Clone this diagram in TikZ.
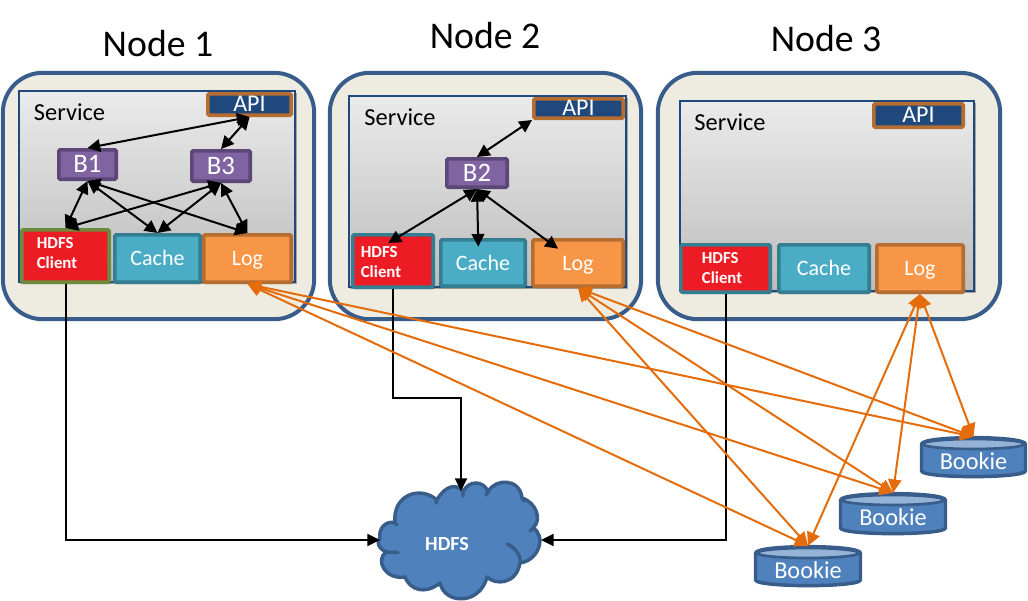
\documentclass[tikz,border=0pt]{standalone}
\usepackage{fontspec}
\setmainfont{Carlito}
\usetikzlibrary{arrows.meta,shadows}
\definecolor{outerfill}{HTML}{EEECE1}
\definecolor{outerline}{HTML}{385D8A}
\definecolor{navy}{HTML}{1F497D}
\definecolor{brownline}{HTML}{B66D31}
\definecolor{purplefill}{HTML}{8064A2}
\definecolor{purpleline}{HTML}{5C4776}
\definecolor{tealfill}{HTML}{4BACC6}
\definecolor{tealline}{HTML}{357D91}
\definecolor{orangefill}{HTML}{F79646}
\definecolor{redfill}{HTML}{ED1C24}
\definecolor{greenline}{HTML}{6E8B3D}
\definecolor{bluefill}{HTML}{4F81BD}
\definecolor{lightblue}{HTML}{95B3D7}
\definecolor{orangeline}{HTML}{E46C0A}
\tikzset{
  softshadow/.style={drop shadow={opacity=.3,shadow xshift=1.2pt,shadow yshift=-1.5pt,fill=black}},
  boxbase/.style={draw,line width=2.7pt,rounded corners=1pt,inner sep=0pt,text=white,text depth=0pt},
  outerbox/.style={draw=outerline,fill=outerfill,line width=3pt,rounded corners=30pt,inner sep=0pt},
  servicebox/.style={draw=navy,line width=1.5pt,top color=white!92!black,bottom color=white!74!black,inner sep=0pt,softshadow},
  apibox/.style={boxbase,draw=brownline,fill=navy,font=\fontsize{18}{18}\selectfont,text height=11pt},
  brokerbox/.style={boxbase,draw=purpleline,fill=purplefill,font=\fontsize{20}{20}\selectfont,text height=12.6pt},
  cachebox/.style={boxbase,draw=tealline,fill=tealfill,font=\fontsize{16.5}{18}\selectfont,text height=11.2pt,softshadow},
  logbox/.style={boxbase,draw=brownline,fill=orangefill,font=\fontsize{16.5}{18}\selectfont,text height=11.2pt,softshadow},
  hdfsboxa/.style={boxbase,draw=greenline,fill=redfill,softshadow},
  hdfsboxb/.style={boxbase,draw=tealline,fill=redfill,softshadow},
  clientlabel/.style={text=white,align=left,inner sep=0pt,font=\bfseries\fontsize{12.6}{15}\selectfont},
  titlelabel/.style={inner sep=0pt,font=\fontsize{28.3}{30}\selectfont},
  servicelabel/.style={inner sep=0pt,font=\fontsize{18.3}{20}\selectfont},
  bookiebody/.style={draw=outerline,fill=bluefill,line width=2.6pt},
  bookietop/.style={draw=outerline,fill=lightblue,line width=2pt},
  bookielabel/.style={inner sep=0pt,text=white,font=\fontsize{18.2}{20}\selectfont,text height=11.4pt,text depth=0pt},
  cloudbody/.style={draw=outerline,fill=bluefill,line width=2.6pt,line join=round},
  cloudlabel/.style={inner sep=0pt,text=white,font=\bfseries\fontsize{15}{18}\selectfont},
  blackarrow/.style={{Triangle[length=9.5pt,width=9.5pt]}-{Triangle[length=9.5pt,width=9.5pt]},line width=1.5pt,black},
  flowarrow/.style={-{Triangle[length=9.5pt,width=9pt]},line width=1.5pt,black},
  orangearrow/.style={{Triangle[length=10pt,width=10pt]}-{Triangle[length=10pt,width=10pt]},line width=1.5pt,orangeline},
}
% name, x1, y1, x2, y2, style, text (outer bounds in reference pixels)
\newcommand{\pxbox}[7]{%
  \pgfmathsetmacro\pxcx{(#2+#4)/2}%
  \pgfmathsetmacro\pxcy{(#3+#5)/2}%
  \pgfmathsetmacro\pxw{(#4-#2-3.6)*0.75}%
  \pgfmathsetmacro\pxh{(#5-#3-3.6)*0.75}%
  \node[#6,minimum width=\pxw pt,minimum height=\pxh pt] (#1) at (\pxcx,\pxcy) {#7};%
}
\newcommand{\bookiedisc}[5]{% name, x1, y1, x2, y2
  \pgfmathsetmacro\pxcx{(#2+#4)/2}%
  \pgfmathsetmacro\pxcy{(#3+#5)/2}%
  \pgfmathsetmacro\pxw{(#4-#2)*0.75}%
  \pgfmathsetmacro\pxh{(#5-#3)*0.75}%
  \draw[bookiebody] (#2+1.5,#3+7) -- (#2+1.5,#5-7) .. controls (#2+3,#5+0.5) and (#4-3,#5+0.5) .. (#4-1.5,#5-7) -- (#4-1.5,#3+7) .. controls (#4-3,#3-1.5) and (#2+3,#3-1.5) .. cycle;
  \draw[bookietop] (\pxcx,#3+7) ellipse [x radius=51,y radius=5];
  \node[bookielabel,minimum width=\pxw pt,minimum height=\pxh pt] (#1) at (\pxcx,\pxcy) {\raisebox{-3.2pt}{Bookie}};%
}
\begin{document}
\begin{tikzpicture}[x=0.75pt,y=-0.75pt]
\useasboundingbox (0,0) rectangle (1028,600);

\node[titlelabel] (title1) at (158,44) {Node 1};
\node[titlelabel] (title2) at (485,36) {Node 2};
\node[titlelabel] (title3) at (826,39) {Node 3};

% Node 1
\pxbox{outer1}{1}{71}{316}{321}{outerbox}{}
\pxbox{svc1}{17}{89}{297}{284}{servicebox}{}
\node[servicelabel] (svct1) at (69.5,112) {Service};
\pxbox{api1}{206}{92}{293}{117}{apibox}{API}
\pxbox{b1}{57}{148}{118}{181}{brokerbox}{B1}
\pxbox{b3}{190}{149}{252}{183}{brokerbox}{B3}
\pxbox{hdfs1}{20}{228}{111}{284}{hdfsboxa}{}
\node[clientlabel] (hdfst1) at (57,253) {HDFS\\Client};
\pxbox{cache1}{113}{233}{202}{284}{cachebox}{Cache}
\pxbox{log1}{202}{233}{293}{284}{logbox}{Log}

% Node 2
\pxbox{outer2}{328}{71}{643}{321}{outerbox}{}
\pxbox{svc2}{347}{94}{628}{289}{servicebox}{}
\node[servicelabel] (svct2) at (400,117) {Service};
\pxbox{api2}{532}{97}{625}{120}{apibox}{API}
\pxbox{b2}{445}{157}{509}{189}{brokerbox}{B2}
\pxbox{hdfs2}{351}{233}{435}{289}{hdfsboxb}{}
\node[clientlabel] (hdfst2) at (381,262) {HDFS\\Client};
\pxbox{cache2}{439}{238}{527}{288}{cachebox}{Cache}
\pxbox{log2}{531}{238}{625}{288}{logbox}{Log}

% Node 3
\pxbox{outer3}{656}{71}{1002}{321}{outerbox}{}
\pxbox{svc3}{678}{99}{976}{293}{servicebox}{}
\node[servicelabel] (svct3) at (730,122) {Service};
\pxbox{api3}{872}{102}{965}{129}{apibox}{API}
\pxbox{hdfs3}{679}{243}{772}{294}{hdfsboxb}{}
\node[clientlabel] (hdfst3) at (722,268) {HDFS\\Client};
\pxbox{cache3}{777}{243}{871}{294}{cachebox}{Cache}
\pxbox{log3}{875}{243}{965}{294}{logbox}{Log}

% Bookies
\bookiedisc{bka}{920}{437}{1027}{478}
\bookiedisc{bkb}{839}{493}{947}{535}
\bookiedisc{bkc}{754}{546}{862}{587}

% HDFS cloud
\draw[cloudbody] (380,538)
  .. controls (378,527) and (388,520) .. (395,523)
  .. controls (392,495) and (420,485) .. (437,500)
  .. controls (445,485) and (458,483) .. (463,492)
  .. controls (468,480) and (484,480) .. (488,492)
  .. controls (495,478) and (520,478) .. (522,498)
  .. controls (537,503) and (542,520) .. (533,528)
  .. controls (546,535) and (540,560) .. (520,563)
  .. controls (516,585) and (495,585) .. (487,577)
  .. controls (480,605) and (445,605) .. (440,583)
  .. controls (425,595) and (410,590) .. (405,577)
  .. controls (385,580) and (375,560) .. (386,552)
  .. controls (377,547) and (377,542) .. (380,538) -- cycle;
\draw[draw=outerline,line width=2.6pt,line cap=round]
  (507,544) .. controls (516,548) and (521,556) .. (520,563)
  (533,528) -- (530,531)
  (386,552) -- (398,552.5)
  (395,523) -- (397,525)
  (437,500) -- (436,503)
  (463,492) -- (463,496)
  (488,492) -- (486,495)
  (522,498) -- (524,501);
\node[cloudlabel] (cloudt) at (447,544) {HDFS};
\coordinate (cloudw) at (380,540);
\coordinate (cloude) at (541,540);
\coordinate (cloudn) at (461,491);
\coordinate (bend2a) at (393,398);
\coordinate (bend2b) at (461,398);

% Internal connectors, node 1
\draw[blackarrow] (b1.north) -- (api1.south);
\draw[blackarrow] (b3.north) -- (api1.south);
\draw[blackarrow] (b1.south) -- (hdfs1.north);
\draw[blackarrow] (b1.south) -- (cache1.north);
\draw[blackarrow] (b1.south) -- (log1.north);
\draw[blackarrow] (b3.south) -- (hdfs1.north);
\draw[blackarrow] (b3.south) -- (cache1.north);
\draw[blackarrow] (b3.south) -- (log1.north);

% Internal connectors, node 2
\draw[blackarrow] (b2.north) -- (api2.south west);
\draw[blackarrow] (b2.south) -- ([xshift=-3.5pt,yshift=-7.5pt]hdfs2.north);
\draw[blackarrow] (b2.south) -- ([xshift=-3.5pt,yshift=-6.5pt]cache2.north);
\draw[blackarrow] (b2.south) -- ([xshift=-15pt,yshift=-8pt]log2.north);

% To HDFS
\draw[flowarrow] (hdfs1.south) |- (cloudw);
\draw[flowarrow] (hdfs2.south) -- (bend2a) -- (bend2b) -- (cloudn);
\draw[flowarrow] (hdfs3.south) |- (cloude);

% Log to Bookie
\foreach \lg in {log1,log2,log3}{
  \foreach \bk in {bka,bkb,bkc}{
    \draw[orangearrow] (\lg.south) -- (\bk.north);
  }
}
\end{tikzpicture}
\end{document}
